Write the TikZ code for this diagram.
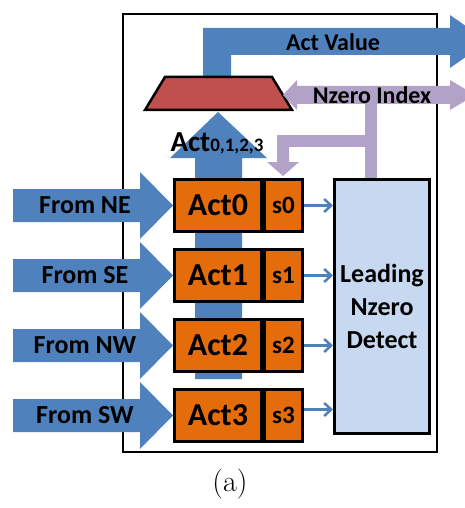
\documentclass[tikz,border=0pt]{standalone}
\usepackage{fontspec}
\setsansfont{Carlito}
\usetikzlibrary{arrows, arrows.meta, positioning, calc, backgrounds}

\definecolor{actblue}{HTML}{4F81BD}
\definecolor{actorange}{HTML}{E46C0A}
\definecolor{muxred}{HTML}{C0504D}
\definecolor{idxpurple}{HTML}{B3A2C7}
\definecolor{detblue}{HTML}{C6D9F1}

\begin{document}
\begin{tikzpicture}[x=1pt,y=-1pt]
	\tikzset {>=stealth', node distance=15pt,
		actbox/.style={draw, line width=3pt, fill=actorange, inner sep=0pt, minimum width=87pt, minimum height=52pt, font=\sffamily\bfseries\fontsize{32}{34}\selectfont},
		selbox/.style={draw, line width=3pt, fill=actorange, inner sep=0pt, minimum width=38pt, minimum height=52pt, font=\sffamily\bfseries\fontsize{25}{27}\selectfont},
		lbl/.style={inner sep=0pt, font=\sffamily\bfseries\fontsize{24}{26}\selectfont},
		detbox/.style={draw, line width=3pt, fill=detblue, inner sep=0pt, minimum width=95pt, minimum height=254pt, align=center, font=\sffamily\bfseries\fontsize{26}{33}\selectfont} }
	\useasboundingbox (0,0) rectangle (465,508);
	\draw[line width=2.5pt] (123,14) rectangle (437,452);

	% act buffers
	\node[actbox, anchor=north west] (act0) at (173,178) {Act0};
	\node[actbox, below=of act0] (act1) {Act1};
	\node[actbox, below=of act1] (act2) {Act2};
	\node[actbox, below=of act2] (act3) {Act3};
	\foreach \i in {0,...,3}
		\node[selbox, right=0pt of act\i] (s\i) {s\i};

	\node[detbox, anchor=north west] (detect) at (333,178) {Leading\\Nzero\\Detect};

	% shared act bus up to the mux
	\begin{scope}[on background layer]
		\fill[actblue] (195,379) -- (195,158) -- (170,158) -- (218,112) -- (267,158) -- (242,158) -- (242,379) -- cycle;
	\end{scope}
	\node[inner sep=0pt, font=\sffamily\bfseries] (actlbl) at (217,143) {\fontsize{29}{30}\selectfont Act\fontsize{19}{20}\selectfont 0,1,2,3};

	% inputs
	\foreach \i/\d/\dy in {0/NE/0,1/SE/0,2/NW/0,3/SW/-6} {
		\fill[actblue] ($(act\i.west)+(-160,-16.5)$) -- ($(act\i.west)+(-33,-16.5)$) -- ($(act\i.west)+(-33,-33.5)$) -- (act\i.west)
			-- ($(act\i.west)+(-33,33.5)$) -- ($(act\i.west)+(-33,16.5)$) -- ($(act\i.west)+(-160,16.5)$) -- cycle;
		\node[lbl, font=\sffamily\bfseries\fontsize{26}{28}\selectfont] (from\i) at ($(act\i.west)+(-88,0)$) {From \d};
		\draw[-{Straight Barb[length=7pt,width=13pt]}, actblue, line width=2.5pt] ($(s\i.east)+(0,\dy)$) -- (detect.west |- {$(s\i.east)+(0,\dy)$});
	}

	% mux and act value out
	\coordinate (mux) at (218,94);
	\fill[actblue] (203,77) -- (203,28) -- (450,28) -- (450,15) -- (488,41.5) -- (450,68) -- (450,55) -- (231,55) -- (231,77) -- cycle;
	\draw[fill=muxred, line width=2.5pt] (165,77) -- (272,77) -- (292,110) -- (145,110) -- cycle;
	\node[lbl] (actval) at (333,42) {Act Value};

	% nzero index
	\fill[idxpurple] (283,95) -- (297,80) -- (297,86) -- (450,86) -- (450,80) -- (475,95) -- (450,110) -- (450,104) -- (297,104) -- (297,110) -- cycle;
	\fill[idxpurple] (365,104) rectangle (377,178);
	\fill[idxpurple] (277,135) rectangle (377,147);
	\fill[idxpurple] (277,140) -- (277,162) -- (267,162) -- (283,176) -- (299,162) -- (289,162) -- (289,140) -- cycle;
	\node[lbl] (nzidx) at (372,95) {Nzero Index};

	\node[inner sep=0pt, font=\rmfamily\fontsize{30}{32}\selectfont] (cap) at (230,484) {(a)};
\end{tikzpicture}
\end{document}
